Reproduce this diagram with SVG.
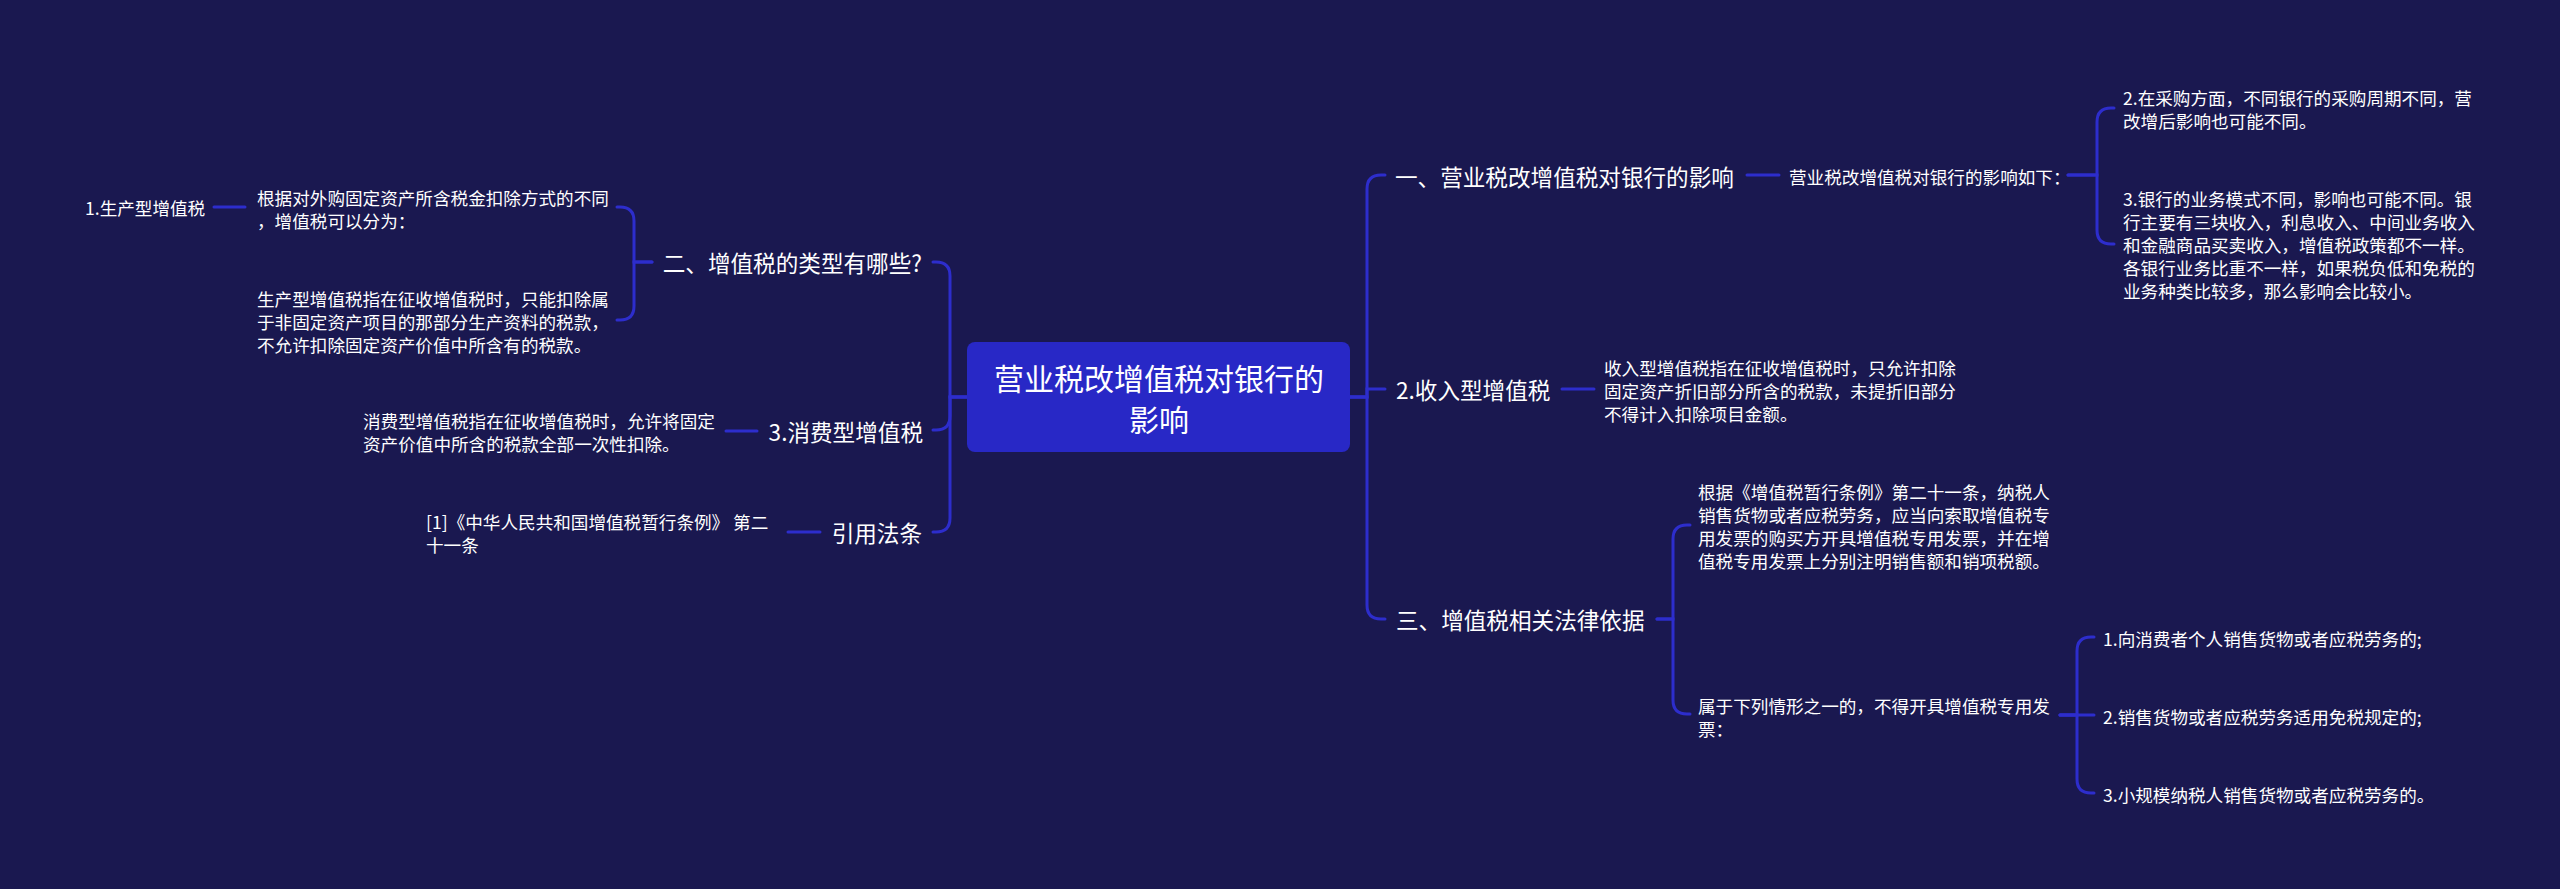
<svg xmlns="http://www.w3.org/2000/svg" width="2560" height="889" viewBox="0 0 2560 889">
<style>
text{font-family:"Noto Sans CJK SC","Noto Sans",sans-serif;fill:#ffffff;dominant-baseline:central}
.t1{font-size:22.6px}
.t2{font-size:17.6px}
.tc{font-size:30px}
.ln{fill:none;stroke:#2d2dcc;stroke-width:3;stroke-linecap:round}
</style>
<rect width="2560" height="889" fill="#1a1850"/>
<g id="connectors">
<path class="ln" d="M967 397 H950 V276 Q950 262 936 262 H933"/>
<path class="ln" d="M967 397 H950 V416 Q950 430 936 430 H933"/>
<path class="ln" d="M967 397 H950 V518 Q950 532 936 532 H933"/>
<path class="ln" d="M1350 397 H1367 V189 Q1367 175 1381 175 H1385"/>
<path class="ln" d="M1350 397 H1367 V389 H1385"/>
<path class="ln" d="M1350 397 H1367 V605 Q1367 619 1381 619 H1385"/>
<path class="ln" d="M652 262 H634 V221 Q634 207 620 207 H617"/>
<path class="ln" d="M652 262 H634 V306 Q634 320 620 320 H617"/>
<path class="ln" d="M245 207 H214"/>
<path class="ln" d="M757 431 H726"/>
<path class="ln" d="M820 532 H788"/>
<path class="ln" d="M1747 175 H1779"/>
<path class="ln" d="M2068 175 H2097 V122 Q2097 108 2111 108 H2114"/>
<path class="ln" d="M2068 175 H2097 V230 Q2097 244 2111 244 H2114"/>
<path class="ln" d="M1562 389 H1594"/>
<path class="ln" d="M1657 619 H1673 V539 Q1673 525 1687 525 H1690"/>
<path class="ln" d="M1657 619 H1673 V700 Q1673 714 1687 714 H1690"/>
<path class="ln" d="M2060 715 H2077 V651 Q2077 637 2091 637 H2094"/>
<path class="ln" d="M2060 715 H2094"/>
<path class="ln" d="M2060 715 H2077 V779 Q2077 793 2091 793 H2094"/>
</g>
<g id="center">
<rect x="967" y="342" width="383" height="110" rx="8" fill="#2828c6"/>
<text class="tc" text-anchor="middle"><tspan x="1159" y="377">营业税改增值税对银行的</tspan><tspan x="1159" y="418">影响</tspan></text>
</g>
<g id="n-types"><text class="t1" x="922" y="262" text-anchor="end">二、增值税的类型有哪些?</text></g>
<g id="n-types-intro"><text class="t2" x="257"><tspan x="257" y="197">根据对外购固定资产所含税金扣除方式的不同</tspan><tspan x="257" y="220">，增值税可以分为：</tspan></text></g>
<g id="n-production"><text class="t2" x="85" y="207">1.生产型增值税</text></g>
<g id="n-production-desc"><text class="t2"><tspan x="257" y="298">生产型增值税指在征收增值税时，只能扣除属</tspan><tspan x="257" y="321">于非固定资产项目的那部分生产资料的税款，</tspan><tspan x="257" y="344">不允许扣除固定资产价值中所含有的税款。</tspan></text></g>
<g id="n-consumption"><text class="t1" x="923" y="431" text-anchor="end">3.消费型增值税</text></g>
<g id="n-consumption-desc"><text class="t2"><tspan x="363" y="420">消费型增值税指在征收增值税时，允许将固定</tspan><tspan x="363" y="443">资产价值中所含的税款全部一次性扣除。</tspan></text></g>
<g id="n-cite"><text class="t1" x="922" y="532" text-anchor="end">引用法条</text></g>
<g id="n-cite-desc"><text class="t2"><tspan x="426" y="521">[1]《中华人民共和国增值税暂行条例》 第二</tspan><tspan x="426" y="544">十一条</tspan></text></g>
<g id="n-impact"><text class="t1" x="1395" y="176">一、营业税改增值税对银行的影响</text></g>
<g id="n-impact-intro"><text class="t2" x="1789" y="176">营业税改增值税对银行的影响如下：</text></g>
<g id="n-impact-2"><text class="t2"><tspan x="2123" y="97">2.在采购方面，不同银行的采购周期不同，营</tspan><tspan x="2123" y="120">改增后影响也可能不同。</tspan></text></g>
<g id="n-impact-3"><text class="t2"><tspan x="2123" y="198">3.银行的业务模式不同，影响也可能不同。银</tspan><tspan x="2123" y="221">行主要有三块收入，利息收入、中间业务收入</tspan><tspan x="2123" y="244">和金融商品买卖收入，增值税政策都不一样。</tspan><tspan x="2123" y="267">各银行业务比重不一样，如果税负低和免税的</tspan><tspan x="2123" y="290">业务种类比较多，那么影响会比较小。</tspan></text></g>
<g id="n-income"><text class="t1" x="1396" y="389">2.收入型增值税</text></g>
<g id="n-income-desc"><text class="t2"><tspan x="1604" y="367">收入型增值税指在征收增值税时，只允许扣除</tspan><tspan x="1604" y="390">固定资产折旧部分所含的税款，未提折旧部分</tspan><tspan x="1604" y="413">不得计入扣除项目金额。</tspan></text></g>
<g id="n-law"><text class="t1" x="1396" y="619">三、增值税相关法律依据</text></g>
<g id="n-law-1"><text class="t2"><tspan x="1698" y="491">根据《增值税暂行条例》第二十一条，纳税人</tspan><tspan x="1698" y="514">销售货物或者应税劳务，应当向索取增值税专</tspan><tspan x="1698" y="537">用发票的购买方开具增值税专用发票，并在增</tspan><tspan x="1698" y="560">值税专用发票上分别注明销售额和销项税额。</tspan></text></g>
<g id="n-law-2"><text class="t2"><tspan x="1698" y="705">属于下列情形之一的，不得开具增值税专用发</tspan><tspan x="1698" y="728">票：</tspan></text></g>
<g id="n-law-2-1"><text class="t2" x="2103" y="638">1.向消费者个人销售货物或者应税劳务的;</text></g>
<g id="n-law-2-2"><text class="t2" x="2103" y="716">2.销售货物或者应税劳务适用免税规定的;</text></g>
<g id="n-law-2-3"><text class="t2" x="2103" y="794">3.小规模纳税人销售货物或者应税劳务的。</text></g>
</svg>
